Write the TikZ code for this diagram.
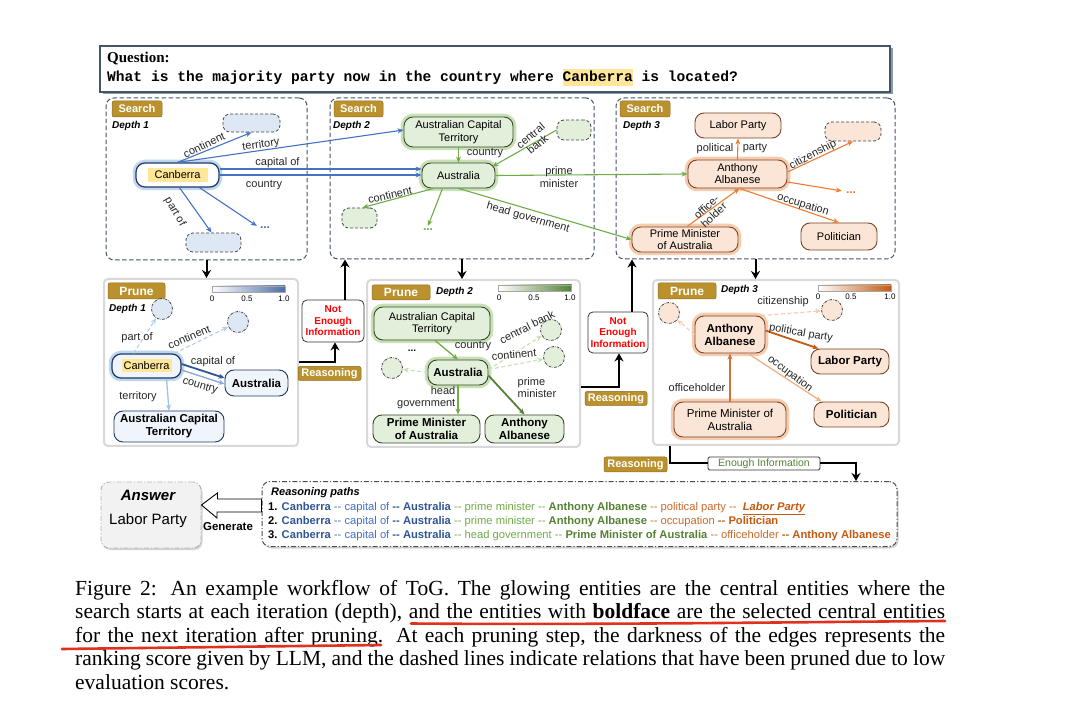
\documentclass[tikz,border=0pt]{standalone}
\usepackage{fontspec}
\setmainfont{Liberation Sans}
\newfontfamily\capserif{Liberation Serif}
\newfontfamily\qmono{Liberation Mono}
\usetikzlibrary{arrows.meta,shadows,calc}
\newcommand\fz[2]{\fontsize{#1}{#2}\selectfont}
\newcommand\dd{-{}-}
\definecolor{goldc}{RGB}{186,145,45}
\definecolor{slate}{RGB}{68,84,106}
\definecolor{eblue}{RGB}{68,114,196}
\definecolor{dblue}{RGB}{47,85,151}
\definecolor{lblue}{RGB}{143,170,220}
\definecolor{vlblue}{RGB}{180,205,232}
\definecolor{fblue}{RGB}{222,232,245}
\definecolor{fblue2}{RGB}{240,245,252}
\definecolor{nblue}{RGB}{31,56,100}
\definecolor{gblue}{RGB}{157,195,230}
\definecolor{egreen}{RGB}{112,173,71}
\definecolor{dgreen}{RGB}{84,130,53}
\definecolor{lgreen}{RGB}{197,224,180}
\definecolor{fgreen}{RGB}{226,239,218}
\definecolor{ngreen}{RGB}{56,72,44}
\definecolor{ggreen}{RGB}{169,209,142}
\definecolor{eorange}{RGB}{237,125,49}
\definecolor{dorange}{RGB}{197,90,17}
\definecolor{lorange}{RGB}{248,203,173}
\definecolor{forange}{RGB}{251,229,214}
\definecolor{norange}{RGB}{120,70,40}
\definecolor{gorange}{RGB}{244,177,131}
\definecolor{hly}{RGB}{255,230,153}
\definecolor{redt}{RGB}{255,0,0}
\definecolor{uline}{RGB}{224,48,30}
\newcommand\bB[1]{\textcolor{dblue}{\bfseries #1}}
\newcommand\nB[1]{\textcolor{eblue}{#1}}
\newcommand\bG[1]{\textcolor{dgreen}{\bfseries #1}}
\newcommand\nG[1]{\textcolor{egreen}{#1}}
\newcommand\bO[1]{\textcolor{dorange}{\bfseries #1}}
\newcommand\nO[1]{\textcolor{eorange!85!black}{#1}}
\tikzset{
 sbox/.style={rectangle, draw=slate, line width=1pt, dash pattern=on 4.5pt off 2.5pt, rounded corners=8pt, inner sep=0},
 pbox/.style={rectangle, draw=gray!30, line width=2pt, rounded corners=4pt, fill=white, inner sep=0},
 gold/.style={rectangle, fill=goldc, draw=goldc!75!black, line width=0.5pt, rounded corners=2pt, text=white, font=\bfseries\fz{11}{12}, inner sep=0},
 depth/.style={font=\bfseries\itshape\fz{10}{11}, inner sep=0, anchor=west},
 ent/.style={rectangle, rounded corners=9pt, line width=0.9pt, align=center, inner sep=1pt, font=\fz{11}{12.5}},
 bent/.style={ent, draw=nblue, fill=fblue2},
 gent/.style={ent, draw=ngreen, fill=fgreen},
 oent/.style={ent, draw=norange, fill=forange},
 bold/.style={font=\bfseries\fz{11.5}{13}},
 glowB/.style={preaction={draw=gblue, line width=6.5pt, draw opacity=0.65}},
 glowG/.style={preaction={draw=ggreen, line width=6.5pt, draw opacity=0.65}},
 glowO/.style={preaction={draw=gorange, line width=6.5pt, draw opacity=0.65}},
 emp/.style={rectangle, rounded corners=7pt, draw=gray!55!black, line width=0.8pt, dash pattern=on 3pt off 2pt},
 pc/.style={circle, draw=gray!55!black, line width=0.8pt, dash pattern=on 2.5pt off 1.2pt on 0.6pt off 1.2pt, minimum size=21pt, inner sep=0},
 hl/.style={rectangle, fill=hly, inner sep=0, font=\fz{11}{12}},
 dots/.style={font=\bfseries\fz{12}{12}, inner sep=1pt},
 lab/.style={font=\fz{11}{12}, inner sep=0.5pt, align=center, text=black!85},
 cbar/.style={rectangle, draw=gray!70, line width=0.4pt, minimum width=73pt, minimum height=6pt, inner sep=0},
 tick/.style={font=\fz{8}{9}, inner sep=0},
 tip/.style={-{Stealth[length=6pt,width=5pt]}},
 eB/.style={tip, draw=eblue, line width=1.1pt},
 eG/.style={tip, draw=egreen, line width=1.1pt},
 eO/.style={tip, draw=eorange, line width=1.1pt},
 eP/.style={tip, line width=#1}, eP/.default=1.3pt,
 ePd/.style={tip, line width=1.1pt, dash pattern=on 4pt off 2.5pt},
 flow/.style={draw=black, line width=2pt, -{Stealth[length=8pt,width=9pt]}},
 flowline/.style={draw=black, line width=2pt},
 nebox/.style={rectangle, rounded corners=5pt, draw=black!80, line width=0.8pt, fill=white, text=redt, font=\bfseries\fz{10}{11.5}, align=center, inner sep=0},
 txt/.style={anchor=base west, inner sep=0},
 rpl/.style={txt, font=\fz{11.2}{13}},
 capl/.style={txt, font=\capserif\fz{21.5}{23}},
}
\begin{document}
\begin{tikzpicture}[x=1pt,y=-1pt]
\useasboundingbox (0,0) rectangle (1080,719);
\fill[white] (0,0) rectangle (1080,719);

% ---------- Question ----------
\node[rectangle, draw=slate, line width=1.2pt, fill=white, minimum width=790pt, minimum height=46pt, inner sep=0,
      drop shadow={shadow xshift=2.5pt, shadow yshift=-2.5pt, fill=slate, opacity=0.6}] (q) at (495,69) {};
\node[hl, minimum width=70pt, minimum height=17pt] (qhl) at (597.5,77.5) {};
\node[txt, font=\capserif\bfseries\fz{15}{16}] (ql) at (107,63) {Question:};
\node[txt, font=\qmono\bfseries\fz{14.6}{16}] (qt) at (107,82) {What is the majority party now in the country where Canberra is located?};

% ---------- Search boxes ----------
\node[sbox, minimum width=201pt, minimum height=162pt] (s1) at (206.5,179) {};
\node[sbox, minimum width=264pt, minimum height=161pt] (s2) at (462,178.5) {};
\node[sbox, minimum width=279pt, minimum height=161pt] (s3) at (755.5,178.5) {};
\node[gold, minimum width=50pt, minimum height=16pt] (sl1) at (137,109) {Search};
\node[gold, minimum width=49pt, minimum height=16pt] (sl2) at (358.5,109) {Search};
\node[gold, minimum width=50pt, minimum height=16pt] (sl3) at (645,109) {Search};
\node[depth] (sd1) at (112,126) {Depth 1};
\node[depth] (sd2) at (333,126) {Depth 2};
\node[depth] (sd3) at (623,126) {Depth 3};

% Search depth 1
\node[bent, glowB, fill=white, line width=1.2pt, minimum width=83pt, minimum height=24pt] (can) at (177.5,175) {};
\node[hl, minimum width=60pt, minimum height=14pt] (canhl) at (can) {Canberra};
\node[emp, fill=fblue, minimum width=57pt, minimum height=18pt] (d1t) at (251.5,123) {};
\node[emp, fill=fblue, minimum width=55pt, minimum height=19pt] (d1b) at (213.5,242.5) {};
\node[dots, text=eblue] (dots1) at (265,228) {...};

% Search depth 2
\node[gent, glowG, minimum width=109pt, minimum height=30pt] (act2) at (458.5,132) {Australian Capital\\Territory};
\node[gent, glowG, minimum width=73pt, minimum height=25pt] (aus2) at (458.5,175.5) {Australia};
\node[emp, fill=fgreen, minimum width=34pt, minimum height=20pt] (d2tr) at (574,130) {};
\node[emp, fill=fgreen, minimum width=35pt, minimum height=20pt] (d2l) at (359.5,218) {};
\node[dots, text=egreen] (dots2) at (428,230) {...};

% Search depth 3
\node[oent, minimum width=86pt, minimum height=25pt] (lp3) at (738,125.5) {Labor Party};
\node[oent, glowO, minimum width=99pt, minimum height=28pt, font=\fz{11}{12}] (aa3) at (737.5,174) {Anthony\\Albanese};
\node[oent, glowO, minimum width=106pt, minimum height=25pt, font=\fz{11}{12}] (pma3) at (685,239.5) {Prime Minister\\of Australia};
\node[oent, minimum width=76pt, minimum height=27pt] (pol3) at (839,236.5) {Politician};
\node[emp, fill=forange, minimum width=56pt, minimum height=19pt] (d3d) at (853,131.5) {};
\node[dots, text=eorange] (dots3) at (851,193) {...};

% edges depth 1
\draw[eB] (can.north) -- (d1t.south);
\draw[eB] (can.north) -- ([yshift=2pt]act2.west);
\draw[eB] ([yshift=6pt]can.east) -- ([yshift=6pt]can.east -| aus2.west);
\draw[eB] (can.east) -- (can.east -| aus2.west);
\draw[eB] ([xshift=2pt]can.south) -- ([xshift=-2pt]d1b.north);
\draw[eB] ([xshift=22pt]can.south) -- ([xshift=-2pt]dots1.north west);
\node[lab, rotate=26] (l1a) at (204,145) {continent};
\node[lab, rotate=8] (l1b) at (261,145) {territory};
\node[lab] (l1c) at (277.5,162.5) {capital of};
\node[lab] (l1d) at (264,185) {country};
\node[lab, rotate=-60] (l1e) at (175,212) {part of};

% edges depth 2
\draw[eG] (act2.south) -- (aus2.north);
\draw[eG] (d2tr.west) -- ([xshift=-3pt,yshift=-4pt]aus2.north east);
\draw[eG] ([xshift=-25pt]aus2.south) -- ([xshift=3pt]d2l.north);
\draw[eG] ([xshift=-16pt]aus2.south) -- ([yshift=2pt]dots2.north);
\draw[eG] (aus2.east) -- (aa3.west);
\draw[eG] (aus2.south) -- (pma3.west);
\node[lab] (l2a) at (485,153.5) {country};
\node[lab, rotate=40, font=\fz{11}{11}] (l2b) at (534,140) {central\\bank};
\node[lab, rotate=13] (l2c) at (390,195) {continent};
\node[lab, font=\fz{11}{12.5}] (l2d) at (559,177) {prime\\minister};
\node[lab, rotate=-16] (l2e) at (528,218) {head government};

% edges depth 3
\draw[eO] (aa3.north) -- (lp3.south);
\draw[eO] ([yshift=2pt]aa3.east) -- (d3d.south);
\draw[eO] ([yshift=-8pt]aa3.east) -- ([xshift=-3pt]dots3.north west);
\draw[eO] ([xshift=2pt]aa3.south) -- (pol3.north);
\draw[eO] ([xshift=2pt]pma3.north) -- ([xshift=2pt]aa3.south);
\node[lab] (l3a) at (715,148.5) {political};
\node[lab] (l3b) at (755,148.5) {party};
\node[lab, rotate=28] (l3c) at (813,155) {citizenship};
\node[lab, rotate=-17] (l3d) at (803,205) {occupation};
\node[lab, rotate=43, font=\fz{11}{11}] (l3e) at (710,211) {office-\\holder};

% ---------- Prune boxes ----------
\node[pbox, minimum width=194pt, minimum height=167pt] (p1) at (201,362.5) {};
\node[pbox, minimum width=213pt, minimum height=167pt] (p2) at (473.5,363.5) {};
\node[pbox, minimum width=246pt, minimum height=165pt] (p3) at (776,362.5) {};
\draw[flow] (s1.south) -- (s1.south |- p1.north);
\draw[flow] (s2.south) -- (s2.south |- p2.north);
\draw[flow] (s3.south) -- (s3.south |- p3.north);
\node[gold, minimum width=57pt, minimum height=16pt, font=\bfseries\fz{12}{13}] (pl1) at (136.5,291) {Prune};
\node[gold, minimum width=58pt, minimum height=15pt, font=\bfseries\fz{12}{13}] (pl2) at (401,292.5) {Prune};
\node[gold, minimum width=58pt, minimum height=16pt, font=\bfseries\fz{12}{13}] (pl3) at (687,291) {Prune};
\node[depth] (pd1) at (109,309) {Depth 1};
\node[depth] (pd2) at (436,292) {Depth 2};
\node[depth] (pd3) at (721,290) {Depth 3};

% colour bars
\node[cbar, left color=white, right color=dblue!85] (cb1) at (248.5,289) {};
\node[tick] (cb1a) at (212,298.5) {0};
\node[tick] (cb1b) at (247,298.5) {0.5};
\node[tick] (cb1c) at (284,298.5) {1.0};
\node[cbar, left color=white, right color=dgreen] (cb2) at (535,288) {};
\node[tick] (cb2a) at (499,297.5) {0};
\node[tick] (cb2b) at (534,297.5) {0.5};
\node[tick] (cb2c) at (570,297.5) {1.0};
\node[cbar, left color=white, right color=dorange] (cb3) at (854.5,288) {};
\node[tick] (cb3a) at (818,297) {0};
\node[tick] (cb3b) at (851,297) {0.5};
\node[tick] (cb3c) at (890,297) {1.0};

% Prune depth 1
\node[pc, fill=fblue] (c11) at (162,309) {};
\node[pc, fill=fblue] (c12) at (238,322) {};
\node[bent, glowB, line width=1.2pt, minimum width=69pt, minimum height=24pt] (can1) at (146.5,366) {};
\node[hl, minimum width=50pt, minimum height=13pt] (can1hl) at (can1) {Canberra};
\node[bent, bold, minimum width=63pt, minimum height=26pt] (aus1) at (256.5,383) {Australia};
\node[bent, bold, minimum width=110pt, minimum height=31pt] (act1) at (169,426.5) {Australian Capital\\Territory};
\draw[ePd, draw=vlblue] ([xshift=-13pt]can1.north) -- (c11);
\draw[ePd, draw=vlblue] ([xshift=28pt]can1.north) -- (c12);
\draw[eP=1.8pt, draw=dblue] ([yshift=2pt]can1.east) -- ([yshift=5pt]aus1.west);
\draw[eP=1.4pt, draw=lblue] ([yshift=-4pt]can1.east) -- ([yshift=-1pt]aus1.west);
\draw[eP=1.3pt, draw=gblue] ([xshift=20pt]can1.south) -- (act1.north);
\node[lab] (m1a) at (137,338) {part of};
\node[lab, rotate=23] (m1b) at (189,337) {continent};
\node[lab] (m1c) at (213,361.5) {capital of};
\node[lab, rotate=-17] (m1d) at (200,386) {country};
\node[lab] (m1e) at (138,397) {territory};

% Prune depth 2
\node[pc, fill=fgreen] (c21) at (392,368) {};
\node[pc, fill=fgreen] (c22) at (551,330) {};
\node[pc, fill=fgreen] (c23) at (554,357) {};
\node[gent, glowG, minimum width=116pt, minimum height=33pt] (act2p) at (432,323.5) {Australian Capital\\Territory};
\node[gent, glowG, bold, minimum width=60pt, minimum height=25pt] (aus2p) at (458,372.5) {Australia};
\node[gent, bold, minimum width=107pt, minimum height=28pt, font=\bfseries\fz{11.5}{12.5}] (pma2p) at (426.5,429) {Prime Minister\\of Australia};
\node[gent, bold, minimum width=79pt, minimum height=28pt, font=\bfseries\fz{11.5}{12.5}] (aa2p) at (524.5,429) {Anthony\\Albanese};
\node[dots, text=black, font=\bfseries\fz{10}{10}] (dots2p) at (412,351) {...};
\draw[eP=1.3pt, draw=egreen] ([xshift=3pt]act2p.south) -- (aus2p.north);
\draw[ePd, draw=lgreen] ([yshift=3pt]aus2p.east) -- (c22);
\draw[ePd, draw=lgreen] ([yshift=3pt]aus2p.east) -- (c23);
\draw[ePd, draw=lgreen] (aus2p.west) -- (c21);
\draw[eP=1.3pt, draw=egreen] (aus2p.south) -- (aus2p.south |- pma2p.north);
\draw[eP=1.8pt, draw=dgreen] ([yshift=-3pt]aus2p.east) -- (aa2p.north);
\node[lab] (m2a) at (473,346) {country};
\node[lab, rotate=27] (m2b) at (527,327) {central bank};
\node[lab, rotate=5] (m2c) at (514,354.5) {continent};
\node[lab, align=right, anchor=east, font=\fz{11}{12}] (m2d) at (456,398) {head\\government};
\node[lab, align=left, anchor=west, font=\fz{11}{12}] (m2e) at (517,388) {prime\\minister};

% Prune depth 3
\node[pc, fill=forange] (c31) at (669,313) {};
\node[pc, fill=forange] (c32) at (832,310) {};
\node[oent, glowO, bold, minimum width=70pt, minimum height=37pt, font=\bfseries\fz{11.5}{13}] (aa3p) at (730,334.5) {Anthony\\Albanese};
\node[oent, bold, minimum width=78pt, minimum height=25pt] (lp3p) at (850,361.5) {Labor Party};
\node[oent, glowO, minimum width=112pt, minimum height=35pt, font=\fz{11.5}{13}] (pma3p) at (730,419.5) {Prime Minister of\\Australia};
\node[oent, bold, minimum width=75pt, minimum height=25pt] (pol3p) at (851.5,414.5) {Politician};
\draw[ePd, draw=lorange] (aa3p.west) -- (c31);
\draw[ePd, draw=lorange] ([xshift=-4pt]aa3p.north east) -- (c32);
\draw[eP=1.8pt, draw=dorange] ([yshift=4pt]aa3p.east) -- ([xshift=8pt]lp3p.north west);
\draw[eP=1.3pt, draw=gorange] ([xshift=18pt]aa3p.south) -- ([xshift=8pt]pol3p.north west);
\draw[eP=1.5pt, draw=dorange!85] (pma3p.north) -- (aa3p.south);
\node[lab] (m3a) at (783,302) {citizenship};
\node[lab, rotate=-10] (m3b) at (801,333) {political party};
\node[lab, rotate=-37] (m3c) at (790,374) {occupation};
\node[lab] (m3d) at (697,388) {officeholder};

% ---------- Reasoning ----------
\node[nebox, minimum width=62pt, minimum height=42pt] (ne1) at (333,321) {Not\\Enough\\Information};
\node[nebox, minimum width=60pt, minimum height=41pt] (ne2) at (618,332.5) {Not\\Enough\\Information};
\node[gold, minimum width=63pt, minimum height=14pt] (rs1) at (329.5,373.5) {Reasoning};
\node[gold, minimum width=62pt, minimum height=14pt] (rs2) at (616,398.5) {Reasoning};
\node[gold, minimum width=63pt, minimum height=15pt] (rs3) at (635.5,464.5) {Reasoning};
\node[rectangle, draw=black!80, line width=0.8pt, fill=white, text=dgreen, font=\fz{10.5}{11}, minimum width=112pt, minimum height=13pt, inner sep=0, rounded corners=1.5pt] (en) at (764,463.5) {Enough Information};
\draw[flow] (p1.east) -| ([xshift=2pt]ne1.south);
\draw[flow] ([xshift=12pt]ne1.north) -- ([xshift=12pt]ne1.north |- s2.south);
\draw[flow] ([yshift=-23.5pt]p2.east) -| ([xshift=1pt]ne2.south);
\draw[flow] ([xshift=14pt]ne2.north) -- ([xshift=14pt]ne2.north |- s3.south);

% ---------- Answer and reasoning paths ----------
\node[rectangle, rounded corners=8pt, fill=gray!10, draw=gray!60, line width=0.9pt, dash pattern=on 5pt off 2pt on 1.2pt off 2pt,
      minimum width=100pt, minimum height=66pt, inner sep=0, drop shadow={shadow xshift=1.5pt, shadow yshift=-2pt, opacity=0.35}] (ans) at (151,515) {};
\node[font=\bfseries\itshape\fz{15}{16}, inner sep=0] (anst) at (148,495) {Answer};
\node[font=\fz{15}{16}, inner sep=0] (ansv) at (148,521) {Labor Party};
\node[rectangle, rounded corners=8pt, fill=white, draw=black!70, line width=1pt, dash pattern=on 5pt off 2pt on 1.2pt off 2pt,
      minimum width=635pt, minimum height=65pt, inner sep=0, drop shadow={shadow xshift=1.5pt, shadow yshift=-2pt, opacity=0.35}] (rp) at (579.5,514) {};
\draw[flowline] ([xshift=-106pt]p3.south) |- (en.west);
\draw[flow] (en.east) -| ([xshift=276.5pt]rp.north);
\draw[line width=0.9pt, fill=white, line join=miter] (ans.east |- 0,505) -- ++(16,-12) -- ++(0,6) -- (rp.west |- 0,499) -- (rp.west |- 0,512) -- (217,512) -- ++(0,6) -- cycle;
\node[font=\bfseries\fz{11.5}{12}, inner sep=0] (gent) at (228,527) {Generate};
\node[txt, font=\bfseries\itshape\fz{11}{12}] (rpt) at (271,495) {Reasoning paths};
\node[rpl] (rp1) at (268,510) {\textbf{1.} \bB{Canberra} \nB{\dd{} capital of} \bB{\dd{} Australia} \nG{\dd{} prime minister \dd{}} \bG{Anthony Albanese} \nO{\dd{} political party \dd{}}\ \ \textcolor{dorange}{\bfseries\itshape\underline{Labor Party}}};
\node[rpl] (rp2) at (268,524) {\textbf{2.} \bB{Canberra} \nB{\dd{} capital of} \bB{\dd{} Australia} \nG{\dd{} prime minister \dd{}} \bG{Anthony Albanese} \nO{\dd{} occupation} \bO{\dd{} Politician}};
\node[rpl] (rp3) at (268,538) {\textbf{3.} \bB{Canberra} \nB{\dd{} capital of} \bB{\dd{} Australia} \nG{\dd{} head government \dd{}} \bG{Prime Minister of Australia} \nO{\dd{} officeholder} \bO{\dd{} Anthony Albanese}};

% ---------- Caption ----------
\node[capl] (cap1) at (75,595) {\makebox[870pt][s]{Figure 2: An example workflow of ToG. The glowing entities are the central entities where the}};
\node[capl] (cap2) at (75,618.5) {\makebox[870pt][s]{search starts at each iteration (depth), and the entities with \textbf{boldface} are the selected central entities}};
\node[capl] (cap3) at (75,642) {\makebox[870pt][s]{for the next iteration after pruning. At each pruning step, the darkness of the edges represents the}};
\node[capl] (cap4) at (75,665.5) {\makebox[870pt][s]{ranking score given by LLM, and the dashed lines indicate relations that have been pruned due to low}};
\node[capl] (cap5) at (75,689) {evaluation scores.};
\draw[uline, line width=2.6pt, line cap=round] (411,623.5) .. controls (600,625) and (800,622) .. (945,621);
\draw[uline, line width=2.6pt, line cap=round] (62,649) -- (381,645);
\end{tikzpicture}
\end{document}
